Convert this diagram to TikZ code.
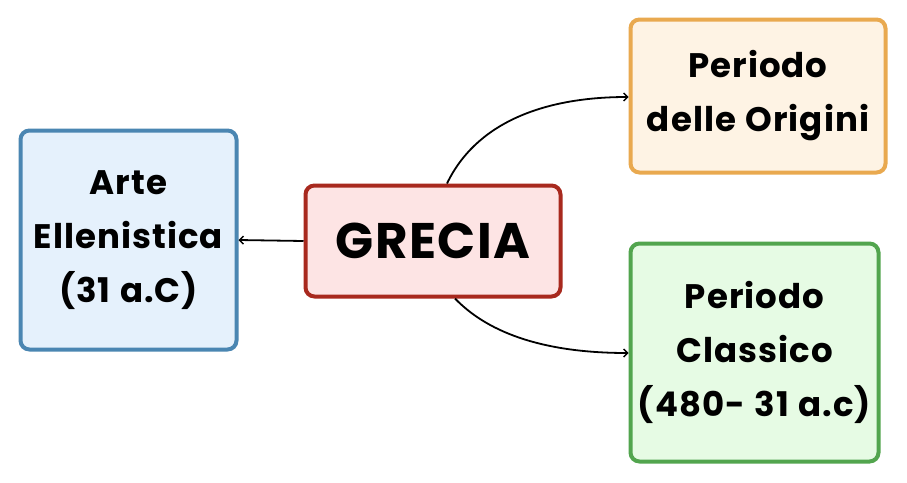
\documentclass[tikz,border=0pt]{standalone}
\usepackage{fontspec}
\setmainfont{Poppins}[BoldFont={* Bold}, LetterSpace=3, WordSpace=1.15]
\usetikzlibrary{arrows.meta}
\definecolor{bluebd}{HTML}{4A86B2}
\definecolor{bluefl}{HTML}{E5F1FC}
\definecolor{redbd}{HTML}{A8291E}
\definecolor{redfl}{HTML}{FDE4E4}
\definecolor{orbd}{HTML}{E9A94F}
\definecolor{orfl}{HTML}{FEF3E4}
\definecolor{grbd}{HTML}{52A54E}
\definecolor{grfl}{HTML}{E6FBE4}
\tikzset{
  box/.style={draw, line width=4pt, rounded corners=9pt, inner sep=0pt, align=center,
    font=\fontsize{34}{54}\selectfont\bfseries},
  conn/.style={line width=1.8pt, -{Straight Barb[length=4pt,width=8pt,line width=1.4pt]}}
}
\begin{document}
\begin{tikzpicture}[x=1pt,y=-1pt]
\useasboundingbox[fill=white] (0,0) rectangle (907,482);
\node[box, draw=bluebd, fill=bluefl, minimum width=216pt, minimum height=219pt] (arte) at (128.5,240) {Arte\\Ellenistica\\(31 a.C)};
\node[box, draw=redbd, fill=redfl, minimum width=255pt, minimum height=111pt, font=\fontsize{50}{54}\selectfont\bfseries] (grecia) at (433,241) {GRECIA};
\node[box, draw=orbd, fill=orfl, minimum width=255pt, minimum height=153pt] (orig) at (758,96) {Periodo\\delle Origini};
\node[box, draw=grbd, fill=grfl, minimum width=248pt, minimum height=218pt] (class) at (754.5,352.5) {Periodo\\Classico\\(480- 31 a.c)};
\draw[conn] (grecia.west) -- (arte.east);
\draw[conn] ([xshift=14pt]grecia.north) .. controls (475,125) and (540,97) .. (orig.west |- 0,97);
\draw[conn] ([xshift=22pt]grecia.south) .. controls (495,340) and (560,353) .. (class.west |- 0,353);
\end{tikzpicture}
\end{document}
